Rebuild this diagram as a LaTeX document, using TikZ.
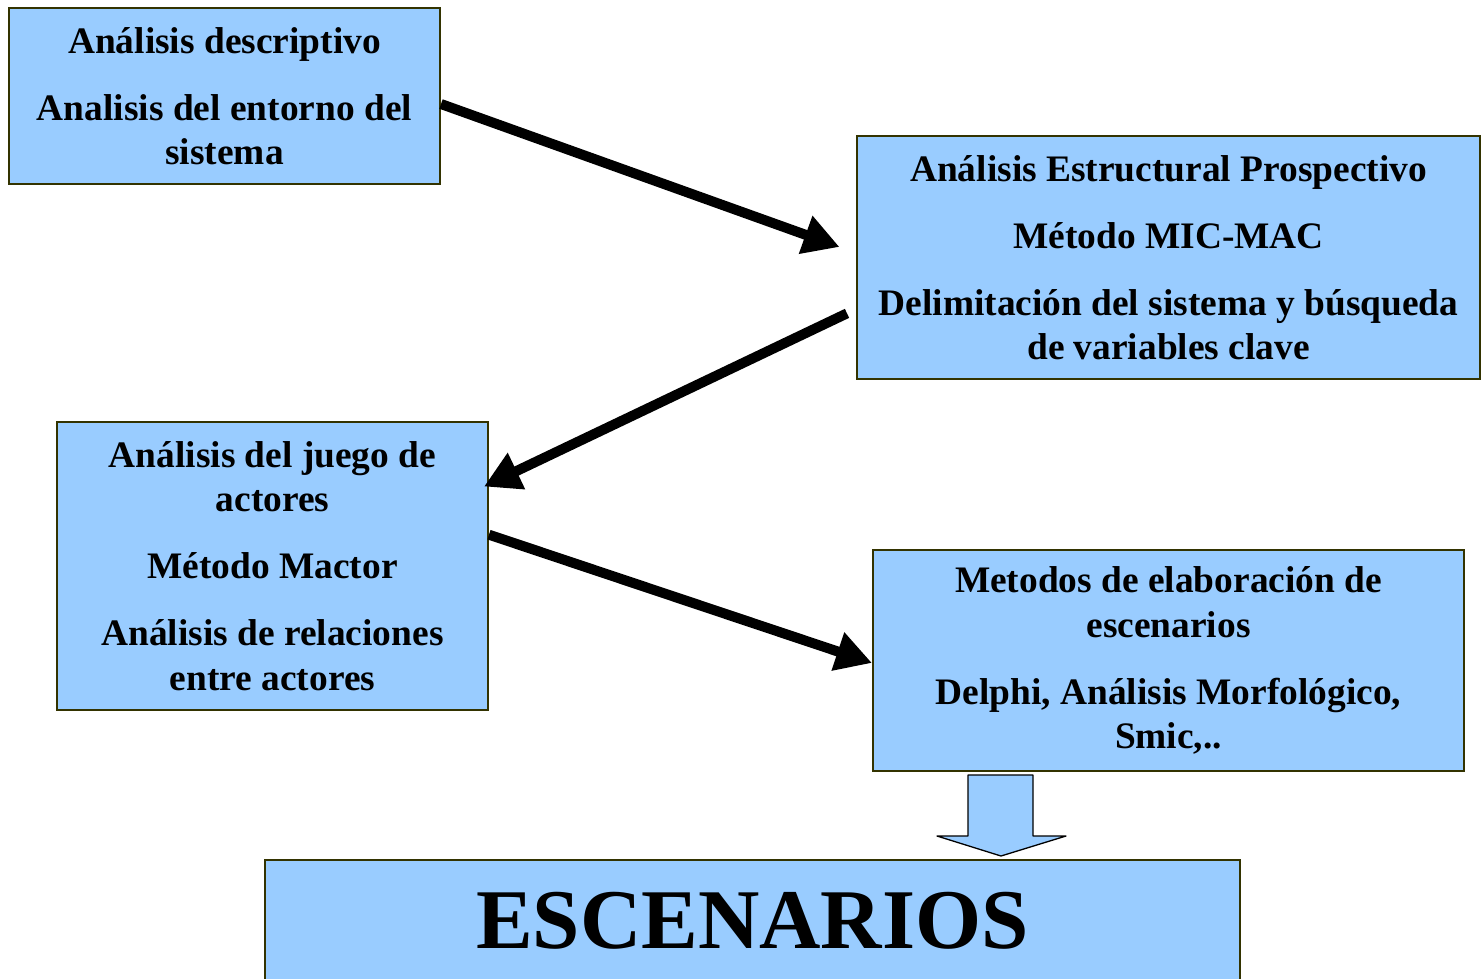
\documentclass[tikz,border=0pt]{standalone}
\usepackage{fontspec}
\setmainfont{Liberation Serif}
\usetikzlibrary{arrows.meta,calc}
\definecolor{boxfill}{HTML}{99CCFF}
\definecolor{boxline}{HTML}{333300}
\begin{document}
\begin{tikzpicture}[x=1pt,y=-1pt,
  box/.style={draw=boxline, fill=boxfill, line width=2pt, inner sep=0pt, align=center,
    font=\bfseries\fontsize{37.4}{44.5}\selectfont},
  conn/.style={line width=10pt, -{Triangle[length=36pt,width=38pt]}},
  blockarrow/.style={draw=black, fill=boxfill, line width=1.3pt, line join=round}
]
\useasboundingbox (0,0) rectangle (1481,978);

\node[box, minimum width=431pt, minimum height=176pt] (A) at (224.5,96)
  {Análisis descriptivo\\[22.5pt] Analisis del entorno del\\ sistema};
\node[box, minimum width=623pt, minimum height=243pt] (B) at (1168.5,257.5)
  {Análisis Estructural Prospectivo\\[22.5pt] Método MIC-MAC\\[22.5pt] Delimitación del sistema y búsqueda\\ de variables clave};
\node[box, minimum width=431pt, minimum height=288pt] (C) at (272.5,566)
  {Análisis del juego de\\ actores\\[22.5pt] Método Mactor\\[22.5pt] Análisis de relaciones\\ entre actores};
\node[box, minimum width=591pt, minimum height=221pt] (D) at (1168.5,660.5)
  {Metodos de elaboración de\\ escenarios\\[22.5pt] Delphi, Análisis Morfológico,\\ Smic,..};
\node[box, minimum width=975pt, minimum height=122pt, font=\bfseries\fontsize{85}{90}\selectfont] (E) at (752.5,921)
  {ESCENARIOS};

\draw[conn] ($(A.north east)!0.545!(A.south east)$) -- ($(B.north west)!0.457!(B.south west)+(-16.5,0)$);
\draw[conn] ($(B.north west)!0.728!(B.south west)+(-9,0)$) -- ($(C.north east)!0.226!(C.south east)+(-5,0)$);
\draw[conn] ($(C.north east)!0.392!(C.south east)$) -- ($(D.north west)!0.511!(D.south west)$);

\draw[blockarrow] (968,775) -- (1033,775) -- (1033,836) -- (1066,836) -- (1001,856) -- (937,836) -- (968,836) -- cycle;
\end{tikzpicture}
\end{document}
